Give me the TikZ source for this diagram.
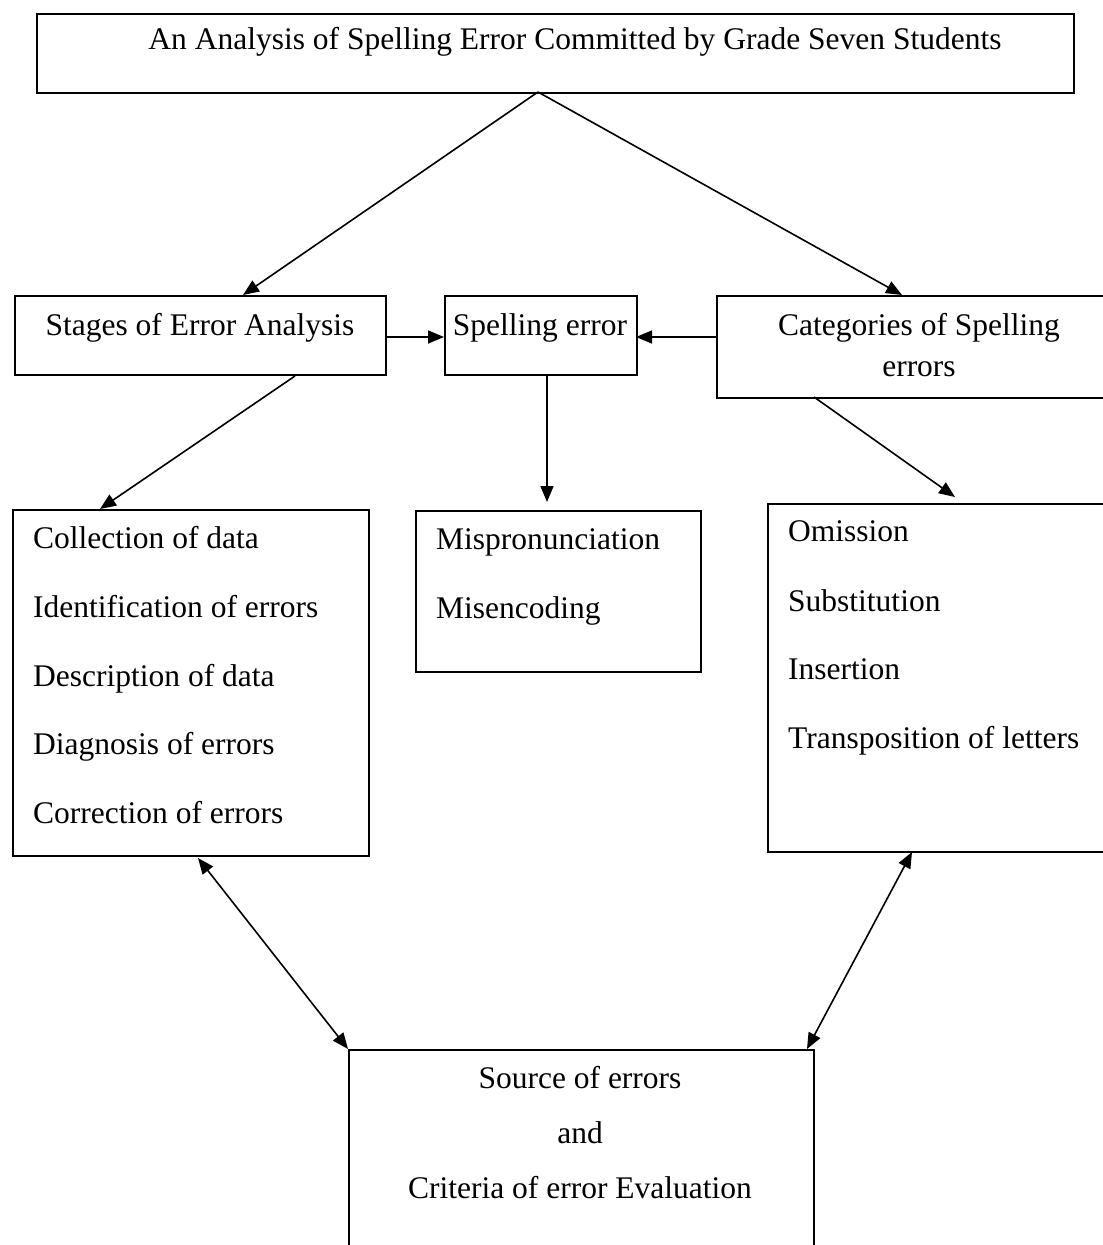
\documentclass[tikz,border=0pt]{standalone}
\usepackage{fontspec}
\setmainfont{Liberation Serif}
\usetikzlibrary{arrows.meta,calc}
\begin{document}
\begin{tikzpicture}[x=1pt,y=-1pt,
  box/.style={draw,line width=1.6pt,inner sep=0pt},
  txt/.style={inner sep=0pt,font=\fontsize{31.5}{38}\selectfont,text height=22pt,text depth=7pt},
  arr/.style={line width=1.6pt,-{Triangle[length=16pt,width=13pt]}},
  darr/.style={line width=1.6pt,{Triangle[length=16pt,width=13pt]}-{Triangle[length=16pt,width=13pt]}}]
\useasboundingbox (0,0) rectangle (1103,1245);
\clip (0,0) rectangle (1103,1245);
% boxes
\node[box,minimum width=1037pt,minimum height=79pt,anchor=north west] (top) at (36,13) {};
\node[box,minimum width=371pt,minimum height=79pt,anchor=north west] (stages) at (14,295) {};
\node[box,minimum width=192pt,minimum height=79pt,anchor=north west] (spell) at (444,295) {};
\node[box,minimum width=420pt,minimum height=102pt,anchor=north west] (cat) at (716,295) {};
\node[box,minimum width=356pt,minimum height=346pt,anchor=north west] (left) at (12,509) {};
\node[box,minimum width=285pt,minimum height=161pt,anchor=north west] (mid) at (415,510) {};
\node[box,minimum width=400pt,minimum height=348pt,anchor=north west] (right) at (767,503) {};
\node[box,minimum width=465pt,minimum height=400pt,anchor=north west] (bot) at (348,1049) {};
% texts
\node[txt] (t0) at (575,42) {An Analysis of Spelling Error Committed by Grade Seven Students};
\node[txt] (t1) at (200,328) {Stages of Error Analysis};
\node[txt] (t2) at (540,328) {Spelling error};
\node[txt] (t3) at (919,328) {Categories of Spelling};
\node[txt] (t4) at (919,369) {errors};
\node[txt,anchor=west] (l1) at (33,541) {Collection of data};
\node[txt,anchor=west] (l2) at (33,610) {Identification of errors};
\node[txt,anchor=west] (l3) at (33,679) {Description of data};
\node[txt,anchor=west] (l4) at (33,747) {Diagnosis of errors};
\node[txt,anchor=west] (l5) at (33,816) {Correction of errors};
\node[txt,anchor=west] (m1) at (436,542) {Mispronunciation};
\node[txt,anchor=west] (m2) at (436,611) {Misencoding};
\node[txt,anchor=west] (r1) at (788,534) {Omission};
\node[txt,anchor=west] (r2) at (788,604) {Substitution};
\node[txt,anchor=west] (r3) at (788,672) {Insertion};
\node[txt,anchor=west] (r4) at (788,741) {Transposition of letters};
\node[txt] (b1) at (580,1081) {Source of errors};
\node[txt] (b2) at (580,1136) {and};
\node[txt] (b3) at (580,1191) {Criteria of error Evaluation};
% connector points
\coordinate (topb) at (538,92);
\coordinate (stt) at (243,295);
\coordinate (catt) at (902,295);
\coordinate (ste) at (385,337);
\coordinate (spw) at (444,337);
\coordinate (spe) at (636,337);
\coordinate (catw) at (716,337);
\coordinate (stb) at (295,376);
\coordinate (leftt) at (100,509);
\coordinate (spb) at (547,374);
\coordinate (midt) at (547,502);
\coordinate (catb) at (814,397);
\coordinate (rightt) at (955,497);
\coordinate (leftb) at (198,858);
\coordinate (botl) at (348,1049);
\coordinate (rightb) at (912,852);
\coordinate (botr) at (807,1049);
% connectors
\draw[arr] (topb) -- (stt);
\draw[arr] (topb) -- (catt);
\draw[arr] (ste) -- (spw);
\draw[arr] (catw) -- (spe);
\draw[arr] (stb) -- (leftt);
\draw[arr] (spb) -- (midt);
\draw[arr] (catb) -- (rightt);
\draw[darr] (leftb) -- (botl);
\draw[darr] (rightb) -- (botr);
\end{tikzpicture}
\end{document}
